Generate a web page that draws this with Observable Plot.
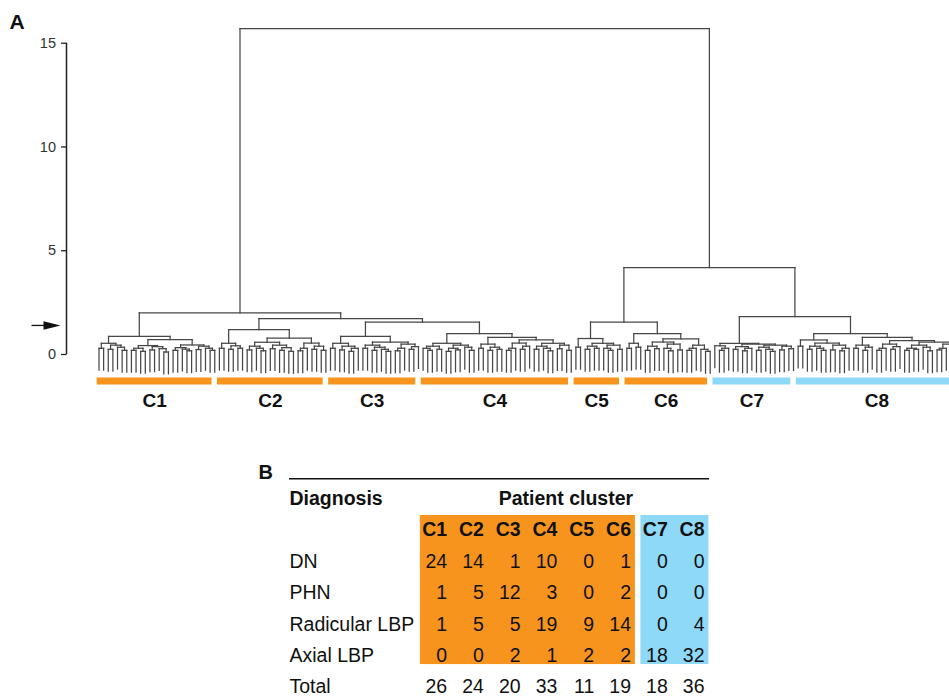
<!DOCTYPE html>
<html><head><meta charset="utf-8">
<script src="https://cdn.jsdelivr.net/npm/d3@7"></script>
<script src="https://cdn.jsdelivr.net/npm/@observablehq/plot@0.6"></script>
<style>
body{margin:0;background:#fff;}
#chart svg{display:block;}
</style></head><body><div id="chart"></div>
<script>
// ---------- DATA ----------
const clusters = ["C1","C2","C3","C4","C5","C6","C7","C8"];
const clusterGroup = ["orange","orange","orange","orange","orange","orange","blue","blue"];

// dendrogram subtrees per cluster: [height, left, right]; 0 = leaf
const treeC1 = [0.87,
  [0.54,[0.3,0,0],[0.45,[0.25,0,0],[0.35,0,[0.2,0,0]]]],
  [0.72,
    [0.43,[0.3,[0.2,0,0],[0.15,0,0]],[0.38,[0.22,0,0],[0.28,0,[0.12,0,0]]]],
    [0.46,[0.33,[0.2,0,0],[0.26,0,[0.18,0,0]]],[0.4,[0.24,0,0],[0.3,0,[0.2,0,0]]]]]];
const treeC2 = [1.2,
  [0.54,[0.3,0,0],[0.42,[0.25,0,0],[0.3,0,0]]],
  [0.79,
    [0.59,[0.4,[0.22,0,0],[0.3,0,[0.18,0,0]]],[0.45,[0.28,0,0],[0.33,[0.2,0,0],[0.15,0,0]]]],
    [0.55,[0.3,[0.18,0,0],0],[0.4,[0.25,0,0],[0.2,0,0]]]]];
const treeC3 = [0.87,
  [0.54,[0.3,0,0],[0.4,[0.22,0,0],[0.3,[0.15,0,0],0]]],
  [0.6,
    [0.45,[0.3,0,0],[0.35,[0.2,0,0],[0.25,0,[0.15,0,0]]]],
    [0.5,[0.3,[0.18,0,0],0],[0.38,[0.25,0,0],0]]]];
const treeC4 = [1.01,
  [0.54,[0.4,[0.3,0,[0.2,0,0]],[0.25,0,0]],[0.45,[0.3,[0.15,0,0],[0.22,0,0]],[0.35,0,[0.2,0,0]]]],
  [0.82,
    [0.5,[0.3,0,0],[0.35,[0.2,0,0],[0.25,0,0]]],
    [0.7,
      [0.55,[0.3,[0.2,0,0],0],[0.4,[0.25,0,0],0]],
      [0.54,[0.4,[0.25,0,0],[0.3,0,[0.18,0,0]]],[0.45,[0.28,0,0],[0.2,0,0]]]]]];
const treeC5 = [0.77,[0.35,0,0],
  [0.54,[0.4,[0.25,0,0],[0.3,0,0]],[0.45,[0.3,0,[0.2,0,0]],[0.25,0,0]]]];
const treeC6 = [1.01,[0.54,[0.3,0,0],[0.35,0,0]],
  [0.75,
    [0.6,[0.4,[0.2,0,0],[0.28,0,0]],[0.5,[0.3,0,[0.18,0,0]],[0.22,0,0]]],
    [0.45,[0.3,[0.2,0,0],0],[0.25,0,[0.15,0,0]]]]];
const treeC7 = [0.54,[0.42,0,[0.3,[0.2,0,0],0]],
  [0.5,
    [0.38,[0.25,0,0],[0.3,[0.18,0,0],0]],
    [0.45,[0.35,[0.2,0,0],[0.25,0,[0.15,0,0]]],[0.4,[0.22,0,0],[0.28,0,0]]]]];
const treeC8 = [1.01,
  [0.7,[0.4,0,0],[0.55,[0.4,[0.25,0,0],[0.3,0,[0.2,0,0]]],[0.45,[0.22,0,0],[0.3,[0.18,0,0],0]]]],
  [0.83,
    [0.45,[0.3,0,0],[0.35,[0.2,0,0],0]],
    [0.67,
      [0.5,[0.3,[0.2,0,0],0],[0.38,[0.25,0,0],0]],
      [0.6,[0.45,[0.3,[0.2,0,0],[0.25,0,0]],[0.35,0,[0.18,0,0]]],[0.5,[0.3,[0.22,0,0],0],[0.4,[0.2,0,0],0]]]]]];

// upper merge heights
const hRoot = 15.7, hLeft = 2.0, hC2to4 = 1.73, hC3C4 = 1.56;
const hRight = 4.19, hC5C6 = 1.56, hC7C8 = 1.83;
const cutHeight = 1.4;
const yTicks = [0, 5, 10, 15];

// table
const diagnoses = ["DN","PHN","Radicular LBP","Axial LBP"];
const countsDN = [24,14,1,10,0,1,0,0];
const countsPHN = [1,5,12,3,0,2,0,0];
const countsRadicular = [1,5,5,19,9,14,0,4];
const countsAxial = [0,0,2,1,2,2,18,32];
const totals = [26,24,20,33,11,19,18,36];

// ---------- LAYOUT ----------
const colors = {orange:"#F7941D", blue:"#8ED8F8"};
const HANG = 1.05;
const trees = {C1:treeC1,C2:treeC2,C3:treeC3,C4:treeC4,C5:treeC5,C6:treeC6,C7:treeC7,C8:treeC8};
const cl = c => ({cluster:c, tree:trees[c]});
const fullTree = [hRoot,
  [hLeft, cl("C1"), [hC2to4, cl("C2"), [hC3C4, cl("C3"), cl("C4")]]],
  [hRight, [hC5C6, cl("C5"), cl("C6")], [hC7C8, cl("C7"), cl("C8")]]];

let leafCounter = 0;
const segs = [];
const leafOwner = [];
function layout(node, cluster) {
  if (node && !Array.isArray(node) && typeof node === "object") return layout(node.tree, node.cluster);
  if (typeof node === "number") { const i = leafCounter++; leafOwner.push(cluster); return {x:i, leaf:true}; }
  const [h, a, b] = node;
  const A = layout(a, cluster), B = layout(b, cluster);
  for (const c of [A, B]) segs.push({x1:c.x, x2:c.x, y1:h, y2: c.leaf ? h - HANG : c.h});
  segs.push({x1:A.x, x2:B.x, y1:h, y2:h});
  return {x:(A.x + B.x)/2, h, leaf:false};
}
layout(fullTree, null);
const nLeaves = leafCounter;

const bars = clusters.map((c, i) => {
  const idx = leafOwner.map((o, j) => o === c ? j : -1).filter(j => j >= 0);
  return {cluster:c, group:clusterGroup[i], first:d3.min(idx), last:d3.max(idx)};
});

const xDomain = [0, nLeaves - 1], xRange = [98.5, 959.7];
const xs = d3.scaleLinear(xDomain, xRange);
const px = v => xs.invert(v);
const yToData = v => (354 - v) / ((354 - 42.7) / 15);

const font = "'Liberation Sans', Arial, Helvetica, sans-serif";
const arrowHead = {draw(ctx){ ctx.moveTo(0,0); ctx.lineTo(-17,-4.2); ctx.lineTo(-17,4.2); ctx.closePath(); }};

const dendro = Plot.plot({
  width: 949, height: 440,
  marginLeft: 66, marginRight: 0, marginTop: 0, marginBottom: 0,
  x: {domain: xDomain, range: xRange, axis: null},
  y: {domain: [0, 15], range: [354, 42.7], axis: null},
  style: {fontFamily: font, color: "#222", background: "#fff"},
  marks: [
    Plot.ruleX([px(66)], {y1: 0, y2: 15, stroke: "#222", strokeWidth: 1.5}),
    Plot.link(yTicks, {x1: () => px(60.5), x2: () => px(66), y1: d => d, y2: d => d, stroke: "#222", strokeWidth: 1.3}),
    Plot.text(yTicks, {x: () => px(55.5), y: d => d, text: d => String(d), textAnchor: "end", fontSize: 14.5, fill: "#333"}),
    Plot.link(segs, {x1:"x1", y1:"y1", x2:"x2", y2:"y2", stroke:"#474747", strokeWidth:1.25, strokeLinecap:"square"}),
    Plot.rect(bars, {x1: d => d.first - 0.5, x2: d => d.last + 0.5, y1: yToData(377.5), y2: yToData(384.5),
      fill: d => colors[d.group], insetLeft: 0.5, insetRight: 5}),
    Plot.text(bars, {x: d => (d.first + d.last)/2 - 0.5, y: yToData(400.5), text: "cluster",
      fontWeight: "bold", fontSize: 19, fill: "#111"}),
    Plot.link([cutHeight], {x1: () => px(31), x2: () => px(46), y1: d => d, y2: d => d, stroke: "#111", strokeWidth: 1.3}),
    Plot.dot([cutHeight], {x: () => px(60), y: d => d, symbol: arrowHead, fill: "#111", stroke: null}),
    Plot.text(["A"], {frameAnchor: "top-left", dx: 9 - 66, dy: 22, textAnchor: "start", lineAnchor: "middle",
      fontWeight: "bold", fontSize: 21, fill: "#111"})
  ]
});

// ---------- TABLE ----------
const rowsData = [countsDN, countsPHN, countsRadicular, countsAxial];
const cells = [];
rowsData.forEach((arr, r) => arr.forEach((v, c) => cells.push({row: r + 2, col: c, v})));
totals.forEach((v, c) => cells.push({row: 6, col: c, v}));
const groupSpans = ["orange","blue"].map(g => {
  const cols = clusters.map((c, i) => clusterGroup[i] === g ? i : -1).filter(i => i >= 0);
  return {group: g, first: d3.min(cols), last: d3.max(cols)};
});
const rowLabels = [...diagnoses.map((d, i) => ({row: i + 2, t: d})), {row:6, t:"Total"}];

const table = Plot.plot({
  width: 949, height: 259,
  marginLeft: 289, marginRight: 240, marginTop: 0, marginBottom: 0,
  x: {domain: [0, 7], range: [446.7, 704], axis: null},
  y: {domain: [0, 6], range: [58, 246.7], axis: null},
  style: {fontFamily: font, color: "#111", background: "#fff"},
  marks: [
    Plot.rect(groupSpans, {x1: d => d.first - 0.73, x2: d => d.last + 0.12, y1: 0.54, y2: 5.28, fill: d => colors[d.group]}),
    Plot.ruleY([-0.63], {stroke: "#111", strokeWidth: 1.5}),
    Plot.text(["B"], {frameAnchor: "top-left", dx: 258 - 289, dy: 32, textAnchor: "start", lineAnchor: "middle",
      fontWeight: "bold", fontSize: 20, fill: "#111"}),
    Plot.text(["Diagnosis"], {frameAnchor: "left", y: () => 0, textAnchor: "start", fontWeight: "bold", fontSize: 19.5, fill: "#111"}),
    Plot.text(rowLabels, {frameAnchor: "left", y: "row", text: "t", textAnchor: "start", fontSize: 19.5, fill: "#111"}),
    Plot.text(["Patient cluster"], {x: () => 3.23, y: () => 0, textAnchor: "middle", fontWeight: "bold", fontSize: 19.5, fill: "#111"}),
    Plot.text(clusters, {x: (d, i) => i, y: () => 1, text: d => d, textAnchor: "end", fontWeight: "bold", fontSize: 19.5, fill: "#111"}),
    Plot.text(cells, {x: "col", y: "row", text: d => String(d.v), textAnchor: "end", fontSize: 19.5, fill: "#111"})
  ]
});

const el = document.getElementById("chart");
el.append(dendro, table);
</script></body></html>
